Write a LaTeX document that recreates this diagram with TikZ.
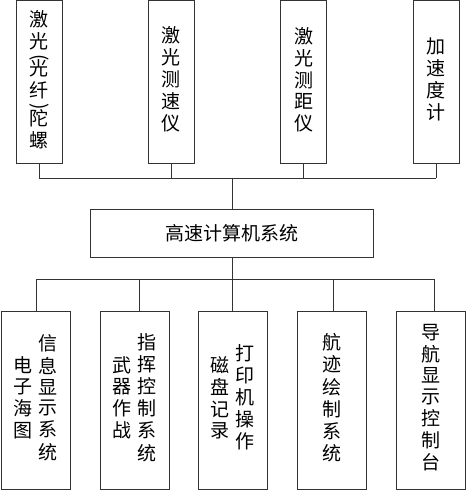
\documentclass[tikz,border=0pt]{standalone}
\usepackage{fontspec}
\newfontfamily\cjk{Noto Sans CJK SC}
\usetikzlibrary{positioning,calc}
\newcommand{\vstack}[1]{\begin{tabular}{@{}c@{}}#1\end{tabular}}
\newcommand{\vparen}[1]{\raisebox{-2pt}{\rotatebox[origin=c]{-90}{#1}}}

\begin{document}
\begin{tikzpicture}[x=1pt,y=-1pt,
  box/.style={draw=black!80, line width=0.9pt, inner sep=0pt, align=center, font=\cjk\fontsize{19}{20.5}\selectfont},
  tbox/.style={box, minimum width=46pt, minimum height=162.5pt},
  bbox/.style={box, minimum width=69pt, minimum height=178pt},
  cbox/.style={box, minimum width=283pt, minimum height=48pt},
  link/.style={draw=black!80, line width=0.9pt},
]
\useasboundingbox (0,0) rectangle (466,490);
% sensors (top row)
\node[tbox] (gyro) at (39,82) {\vstack{激\\光\\[-7.5pt]\vparen{(}\\[-7.5pt]光\\纤\\[-7.5pt]\vparen{)}\\[-7.5pt]陀\\螺}};
\node[tbox] (vel) at (171,82) {\vstack{激\\光\\测\\速\\仪}};
\node[tbox] (rng) at (303.5,82) {\vstack{激\\光\\测\\距\\仪}};
\node[tbox] (acc) at (436,82) {\vstack{加\\速\\度\\计}};
% computer
\node[cbox] (cpu) at (231.5,233) {高速计算机系统};
% output units (bottom row)
\node[bbox] (ecdis) at (35.5,400) {\vstack{电\\子\\海\\图}\hspace{6pt}\vstack{信\\息\\显\\示\\系\\统}};
\node[bbox] (wpn) at (134.5,400) {\vstack{武\\器\\作\\战}\hspace{6pt}\vstack{指\\挥\\控\\制\\系\\统}};
\node[bbox] (prn) at (232.5,400) {\vstack{磁\\盘\\记\\录}\hspace{6pt}\vstack{打\\印\\机\\操\\作}};
\node[bbox] (trk) at (332,400) {\vstack{航\\迹\\绘\\制\\系\\统}};
\node[bbox] (nav) at (431,400) {\vstack{导\\航\\显\\示\\控\\制\\台}};
% upper bus
\coordinate (tbus) at (232,178);
\foreach \n in {gyro,vel,rng,acc} \draw[link] (\n.south) -- (\n.south |- tbus);
\draw[link] (gyro.south |- tbus) -- (acc.south |- tbus);
\draw[link] (tbus) -- (tbus |- cpu.north);
% lower bus
\coordinate (bbus) at (232,279);
\draw[link] (bbus |- cpu.south) -- (bbus);
\foreach \n/\s [count=\i] in {ecdis/0.5,wpn/4.5,prn/-0.5,trk/1,nav/3}{
  \coordinate (j\i) at ([xshift=\s pt]\n.north);
  \draw[link] (j\i) -- (j\i |- bbus);
}
\draw[link] (j1 |- bbus) -- (j5 |- bbus);
\end{tikzpicture}
\end{document}
